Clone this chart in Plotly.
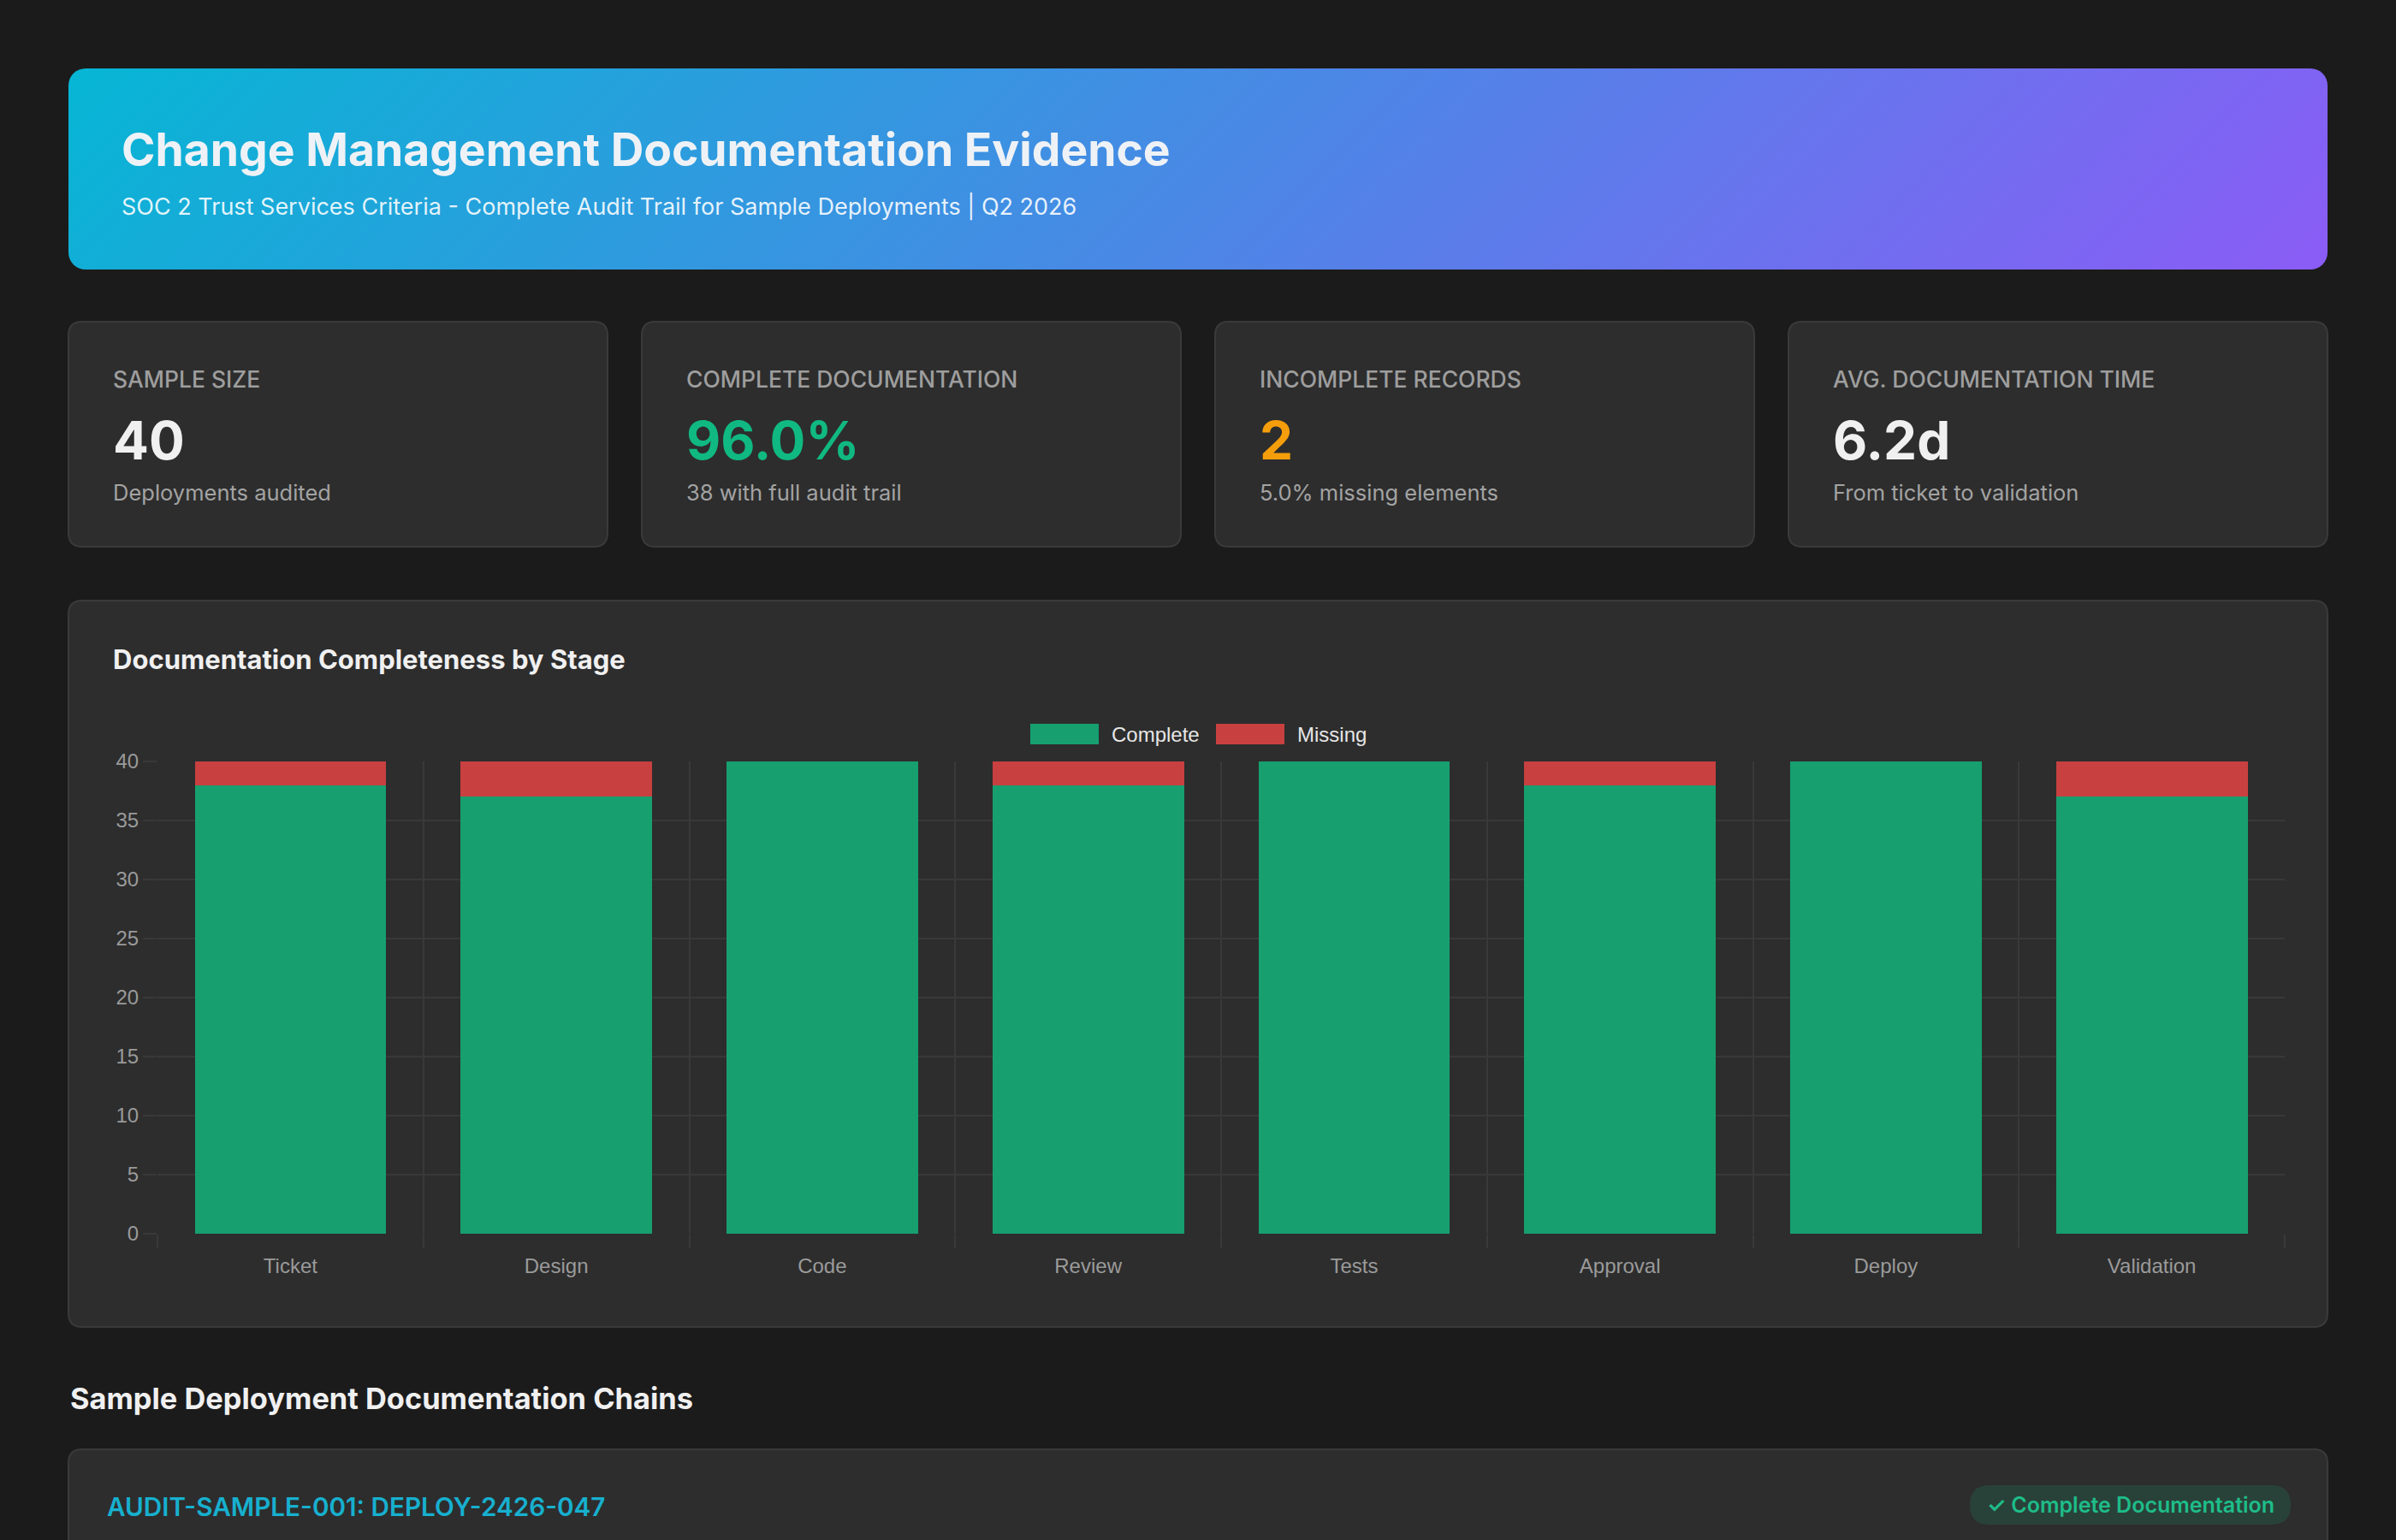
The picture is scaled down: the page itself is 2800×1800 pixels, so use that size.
import base64
import plotly.graph_objects as go

W, H = 2800, 1800

# ---------------- data ----------------
stages = ["Ticket", "Design", "Code", "Review", "Tests", "Approval", "Deploy", "Validation"]
complete_counts = [38, 37, 40, 38, 40, 38, 40, 37]
missing_counts = [2, 3, 0, 2, 0, 2, 0, 3]
y_ticks = [0, 5, 10, 15, 20, 25, 30, 35, 40]

kpi_labels = ["SAMPLE SIZE", "COMPLETE DOCUMENTATION", "INCOMPLETE RECORDS", "AVG. DOCUMENTATION TIME"]
kpi_values = ["40", "96.0%", "2", "6.2d"]
kpi_subs = ["Deployments audited", "38 with full audit trail", "5.0% missing elements", "From ticket to validation"]
kpi_colors = ["#f0f0f0", "#10b981", "#f59e0b", "#f0f0f0"]

title = "Change Management Documentation Evidence"
subtitle = "SOC 2 Trust Services Criteria - Complete Audit Trail for Sample Deployments | Q2 2026"
chart_title = "Documentation Completeness by Stage"
section_title = "Sample Deployment Documentation Chains"
sample_id = "AUDIT-SAMPLE-001: DEPLOY-2426-047"
sample_badge = "✓ Complete Documentation"

# ---------------- style ----------------
BG = "#1b1b1b"
CARD = "#2d2d2d"
BORDER = "#3a3a3a"
GRID = "#393939"
GREEN = "#179f70"
RED = "#c84040"
UI_FONT = "Inter, 'Noto Sans', sans-serif"
CH_FONT = "'Liberation Sans', Arial, sans-serif"


def X(px):
    return px / W


def Y(py):
    return 1 - py / H


def rrect(x0, y0, x1, y1, r, fill, line=None, lw=0):
    p = (f"M {X(x0+r)},{Y(y0)} L {X(x1-r)},{Y(y0)} Q {X(x1)},{Y(y0)} {X(x1)},{Y(y0+r)} "
         f"L {X(x1)},{Y(y1-r)} Q {X(x1)},{Y(y1)} {X(x1-r)},{Y(y1)} "
         f"L {X(x0+r)},{Y(y1)} Q {X(x0)},{Y(y1)} {X(x0)},{Y(y1-r)} "
         f"L {X(x0)},{Y(y0+r)} Q {X(x0)},{Y(y0)} {X(x0+r)},{Y(y0)} Z")
    return dict(type="path", path=p, xref="paper", yref="paper", fillcolor=fill,
                line=dict(color=line or fill, width=lw), layer="below")


annotations = []


def text(x, y, s, size, color, weight=400, family=UI_FONT, xanchor="left"):
    annotations.append(dict(x=X(x), y=Y(y), xref="paper", yref="paper", text=s, showarrow=False,
                            xanchor=xanchor, yanchor="middle",
                            font=dict(size=size, color=color, family=family, weight=weight)))


shapes = []
# KPI cards
card_w, card_gap = 630, 40
for i in range(4):
    x0 = 80 + i * (card_w + card_gap)
    shapes.append(rrect(x0, 376, x0 + card_w, 639, 16, CARD, BORDER, 2))
    text(x0 + 50, 443, kpi_labels[i], 26.5, "#9e9e9e", 500)
    text(x0 + 50, 514, kpi_values[i], 62, kpi_colors[i], 700)
    text(x0 + 50, 575, kpi_subs[i], 25.5, "#a3a3a3", 400)

# chart panel
shapes.append(rrect(80, 702, 2720, 1551, 16, CARD, BORDER, 2))
text(130, 770, chart_title, 31, "#f0f0f0", 700)

# manual legend (Chart.js style)
leg = [("Complete", GREEN, 1204), ("Missing", RED, 1421)]
for name, col, lx in leg:
    shapes.append(dict(type="rect", xref="paper", yref="paper", x0=X(lx), x1=X(lx + 80),
                       y0=Y(870), y1=Y(846), fillcolor=col, line=dict(width=0), layer="below"))
    text(lx + 93, 858, name, 24, "#e6e6e6", 400, CH_FONT)

# section title & sample card
text(80, 1634, section_title, 34.4, "#f0f0f0", 700)
shapes.append(rrect(80, 1694, 2720, 1900, 16, CARD, BORDER, 2))
text(123, 1761, sample_id, 29.7, "#17b0cf", 600)
shapes.append(rrect(2302, 1736, 2677, 1782, 23, "#294239"))
text(2490, 1759, sample_badge, 25, "#1ebd89", 600, xanchor="center")

# header title text
text(140, 174, title, 53.4, "#eef2f6", 700)
text(140, 241, subtitle, 27, "rgba(255,255,255,0.88)", 400)

# header gradient (CSS 135deg) as SVG image
svg = ('<svg xmlns="http://www.w3.org/2000/svg" width="2640" height="235" viewBox="0 0 2640 235">'
       '<defs><linearGradient id="g" gradientUnits="userSpaceOnUse" x1="601" y1="-601" x2="2039" y2="836">'
       '<stop offset="0" stop-color="#06b6d4"/><stop offset="1" stop-color="#8b5cf6"/></linearGradient></defs>'
       '<rect width="2640" height="235" rx="20" ry="20" fill="url(#g)"/></svg>')
src = "data:image/svg+xml;base64," + base64.b64encode(svg.encode()).decode()

fig = go.Figure()
fig.add_trace(go.Bar(x=stages, y=complete_counts, name="Complete", marker=dict(color=GREEN, line=dict(width=0)),
                     showlegend=False))
fig.add_trace(go.Bar(x=stages, y=missing_counts, name="Missing", marker=dict(color=RED, line=dict(width=0)),
                     showlegend=False))

fig.update_layout(
    width=W, height=H,
    margin=dict(l=0, r=0, t=0, b=0, pad=0, autoexpand=False),
    paper_bgcolor=BG, plot_bgcolor="rgba(0,0,0,0)",
    barmode="stack", bargap=0.28,
    showlegend=False,
    shapes=shapes, annotations=annotations,
    images=[dict(source=src, xref="paper", yref="paper", x=X(80), y=Y(80), sizex=2640 / W, sizey=235 / H,
                 xanchor="left", yanchor="top", sizing="stretch", layer="below")],
    xaxis=dict(domain=[X(184), X(2670)], type="category", tickson="boundaries",
               showgrid=True, gridcolor=GRID, gridwidth=2,
               ticks="outside", ticklen=16, tickwidth=2, tickcolor=GRID,
               ticklabelstandoff=21,
               tickfont=dict(size=24, color="#9a9a9a", family=CH_FONT),
               showline=False, zeroline=False, automargin=False),
    yaxis=dict(domain=[Y(1442), Y(890)], range=[0, 40], tickvals=y_ticks,
               showgrid=True, gridcolor=GRID, gridwidth=2,
               ticks="outside", ticklen=16, tickwidth=2, tickcolor=GRID,
               tickfont=dict(size=24, color="#9a9a9a", family=CH_FONT),
               showline=False, zeroline=False, automargin=False),
    hovermode=False,
)

fig.write_html("out.html")
